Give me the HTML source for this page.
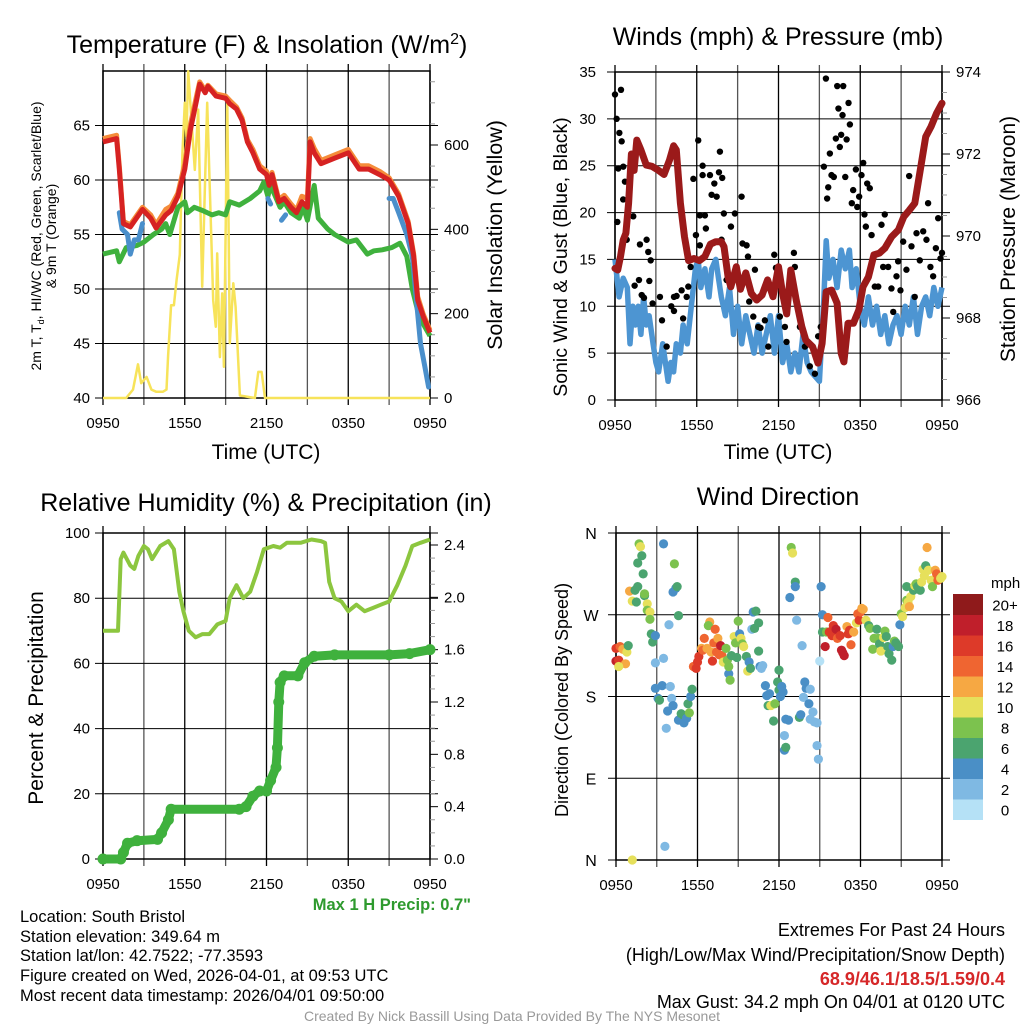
<!DOCTYPE html>
<html><head><meta charset="utf-8">
<style>
body{margin:0;background:#fff;}
svg{display:block;font-family:"Liberation Sans",Arial,sans-serif;}
</style></head>
<body>
<svg id="c" width="1024" height="1024" viewBox="0 0 1024 1024" xmlns="http://www.w3.org/2000/svg">
<text x="267" y="53" font-size="25" text-anchor="middle">Temperature (F) &amp; Insolation (W/m<tspan dy="-9" font-size="16">2</tspan><tspan dy="9">)</tspan></text>
<text x="778" y="45" font-size="25" text-anchor="middle">Winds (mph) &amp; Pressure (mb)</text>
<text x="266" y="511" font-size="25" text-anchor="middle">Relative Humidity (%) &amp; Precipitation (in)</text>
<text x="778" y="505" font-size="25" text-anchor="middle">Wind Direction</text>

<text x="266" y="459" font-size="21" text-anchor="middle">Time (UTC)</text>
<text x="778" y="459" font-size="21" text-anchor="middle">Time (UTC)</text>

<text transform="translate(41,236) rotate(-90)" font-size="14" text-anchor="middle">2m T, T<tspan font-size="9" dy="3">d</tspan><tspan dy="-3">, HI/WC (Red, Green, Scarlet/Blue)</tspan></text>
<text transform="translate(56,236) rotate(-90)" font-size="14" text-anchor="middle">&amp; 9m T (Orange)</text>
<text transform="translate(502,235) rotate(-90)" font-size="21.5" text-anchor="middle">Solar Insolation (Yellow)</text>
<text transform="translate(567,257) rotate(-90)" font-size="19.5" text-anchor="middle">Sonic Wind &amp; Gust (Blue, Black)</text>
<text transform="translate(1015,239) rotate(-90)" font-size="21" text-anchor="middle">Station Pressure (Maroon)</text>
<text transform="translate(43,698) rotate(-90)" font-size="21" text-anchor="middle">Percent &amp; Precipitation</text>
<text transform="translate(568,700) rotate(-90)" font-size="18" text-anchor="middle">Direction (Colored By Speed)</text>

<text x="471" y="910" font-size="16.5" font-weight="bold" fill="#2e9a2e" text-anchor="end">Max 1 H Precip: 0.7"</text>

<g font-size="16.5">
<text x="20" y="922">Location: South Bristol</text>
<text x="20" y="942">Station elevation: 349.64 m</text>
<text x="20" y="961">Station lat/lon: 42.7522; -77.3593</text>
<text x="20" y="981">Figure created on Wed, 2026-04-01, at 09:53 UTC</text>
<text x="20" y="1001">Most recent data timestamp: 2026/04/01 09:50:00</text>
</g>
<g font-size="18" text-anchor="end">
<text x="1005" y="936">Extremes For Past 24 Hours</text>
<text x="1005" y="961">(High/Low/Max Wind/Precipitation/Snow Depth)</text>
<text x="1005" y="985" fill="#d62728" font-weight="bold">68.9/46.1/18.5/1.59/0.4</text>
<text x="1005" y="1008">Max Gust: 34.2 mph On 04/01 at 0120 UTC</text>
</g>
<text x="512" y="1021" font-size="14" fill="#999" text-anchor="middle">Created By Nick Bassill Using Data Provided By The NYS Mesonet</text>
</svg>
<script>
// ---------- DATA ----------
const xTickLabels = ["0950","1550","2150","0350","0950"];
// Temperature panel (hours since 0950)
const redT = [0,1,1.2,1.5,2,2.9,3.5,3.9,4.6,5,5.5,6,6.4,6.9,7.1,7.5,7.7,8.3,9,9.3,9.8,10.2,10.6,11,11.5,12,12.2,12.4,12.9,13.3,13.8,14.2,14.6,15,15.2,15.5,16,17,18,18.8,19.5,20.3,21,21.7,22.4,22.8,23.1,23.5,24];
const redV = [63.5,63.8,61,56,55.7,57.3,56.5,55.6,56.8,57.2,58.5,61,64.5,67.5,68.8,68,68.6,67.7,67.5,67,66.5,65.5,63.5,62.5,61,60.5,59.5,60.5,58,58.3,57.5,57,58,57.5,63.5,62.5,61.5,62,62.5,61,61,60.5,60,58.5,56,53,49,47.5,46];
const orangeV = [63.8,64.1,61.3,56.2,55.9,57.5,56.8,55.9,57.3,57.6,58.8,61.5,65,67.9,69,68.2,68.7,67.9,67.7,67.3,66.7,65.7,63.7,62.8,61.3,60.8,59.8,60.7,58.2,58.6,57.8,57.2,58.5,58.3,63.8,62.9,61.8,62.3,62.8,61.3,61.3,60.8,60.2,58.7,56.2,53.2,49.3,47.7,46.2];
const greenT = [0,1,1.2,1.7,2.5,3,3.7,4.3,4.6,4.9,5.5,6,6.2,6.7,7.3,8,8.5,9,9.3,10,10.8,11.5,11.8,12.1,12.3,13,13.3,13.8,14.4,14.7,15,15.5,15.8,16.5,17,18,18.6,19.4,19.9,20.5,21.2,21.8,22.3,22.7,23.2,23.5,24];
const greenV = [53.2,53.5,52.5,53.8,54,54.3,55,55.5,56,55,57.5,58,57,57.5,57.2,56.8,57,56.8,58,57.7,58.3,59,59.8,58.5,59.5,57.5,58,57,56.5,57.5,56.3,59.5,56.5,55.5,55,54.3,54.5,53.2,53.5,53.6,53.8,54.2,53,50,47.5,46.8,45.7];
const blueT = [1.2,1.4,1.8,2.0,2.3,2.6,2.9,null,12.1,12.3,null,13.1,13.4,null,21.0,21.3,21.7,22.3,22.7,23.0,23.3,23.6,23.9];
const blueV = [57,55.5,55,53.2,54.5,54.5,56,null,58.3,57.8,null,56.3,56.8,null,58.3,58.3,57,55,53,49,45,43,41];
const solarT = [0,1.7,2.2,2.57,2.8,3.2,3.55,3.9,4.4,4.66,4.78,5.0,5.2,5.4,5.64,5.83,6.0,6.13,6.25,6.74,6.99,7.28,7.65,8.09,8.28,8.38,8.58,8.75,8.87,9.12,9.31,9.56,9.73,10.05,11.15,11.4,11.64,11.89,24];
const solarV = [0,0,20,80,35,50,20,15,15,20,100,220,220,280,340,580,700,620,775,541,684,264,700,232,169,343,97,248,74,700,130,272,216,6,0,62,62,0,0];
// Wind panel
const windT = [0,0.3,0.6,0.9,1.1,1.3,1.5,1.7,1.9,2.1,2.3,2.5,2.8,3.0,3.2,3.5,3.7,3.9,4.1,4.3,4.5,4.8,5.0,5.3,5.6,5.9,6.1,6.3,6.6,6.9,7.1,7.4,7.6,7.8,8.1,8.4,8.7,9.0,9.3,9.6,9.9,10.2,10.5,10.8,11.1,11.4,11.7,12.0,12.3,12.6,12.9,13.2,13.5,13.8,14.1,14.4,14.7,15.0,15.3,15.5,15.7,16.0,16.3,16.6,16.9,17.2,17.4,17.7,18.0,18.3,18.6,18.9,19.2,19.5,19.8,20.1,20.4,20.7,21.0,21.3,21.6,21.9,22.2,22.5,22.8,23.1,23.4,23.7,24];
const windV = [15,11,13,12,6,10,8,10,7,11,8,9,6,4,3,6,4,2,4,3,6,5,8,6,10,14,15,12,14,11,14,15,13,11,9,12,7,10,6,9,7,5,8,5,7,9,5,9,4,6,3,5,3,7,4,3,2.5,2,10,17,13,15,12,16,14,16,12,14,10,8,11,8,10,7,9,6,8,9,7,10,8,11,7,10,11,9,12,10,12];
const gustT = [0,0.12,0.44,0.32,0.49,0.24,0.61,0.73,0.6,0.17,1.34,0.86,1.83,2.32,2.44,2.62,2.52,1.76,1.44,1.96,2.13,2.76,3.3,3.45,3.79,4.13,4.33,4.52,4.89,4.33,5.0,5.26,5.38,5.55,5.75,5.94,6.11,6.23,6.23,6.43,6.43,6.6,6.67,6.97,7.09,7.29,7.46,7.7,7.63,7.87,7.99,7.82,8.19,8.51,8.8,9.29,9.36,9.66,9.76,9.85,10.15,10.27,10.51,10.68,11.0,11.25,11.69,11.81,12.1,12.47,12.59,13.13,13.2,13.57,13.94,14.3,14.67,14.91,15.1,15.33,15.48,15.57,15.65,15.77,15.89,16.06,16.21,16.31,16.4,16.5,16.6,16.7,16.75,16.9,17.0,17.14,17.24,17.38,17.48,17.68,17.78,17.92,18.09,18.22,18.31,18.41,18.51,18.7,18.83,19.07,19.32,19.56,19.8,19.68,20.05,20.29,20.42,20.66,20.78,20.95,21.15,21.39,21.59,21.76,22.0,22.13,22.37,22.62,22.86,22.98,23.15,23.35,23.55,23.72,23.89,24];
const gustV = [32.6,30,33.1,28.5,27.6,24.7,24.9,23.3,21.4,19,19.6,17.1,16.6,17.1,15.8,14.9,12.7,12.8,12.2,11.2,10.9,10.3,11,8.5,5.7,10,9.5,11.1,11.7,11,8.7,11,12.1,14.2,23.6,17.6,27.7,16.5,19.7,25,24,19.7,18.3,24,21.9,23.1,21.7,26.5,24.3,23.7,19.9,17.1,12.8,18.5,19.9,21.7,16.7,16.5,15.3,10.5,8.9,13.9,7.8,7.7,8.5,5.7,15.5,14.1,8.9,7.8,6.2,15.7,14.2,7.8,5.7,3.6,2.8,6.8,7.8,24.9,34.3,21.5,22.7,26.3,24,23.8,27.9,33.5,31.1,27,28.3,30.4,33.5,23.8,27.8,31.7,29.4,21,22.4,24.6,20.6,21.7,24,25.3,19.8,18.5,23.1,22.6,17.6,12.1,12.1,18.7,19.8,14.2,14.2,11.9,9.4,13.2,14.8,11.7,16.9,13.9,23.9,16.4,11,17.8,14.9,18,17.1,21,14.2,13.2,16.2,19.4,15.1,15.7];
const presT = [0,0.2,0.4,0.6,0.8,1.0,1.2,1.4,1.6,1.9,2.3,2.7,3.2,3.6,4.0,4.3,4.5,4.8,5.1,5.4,5.8,6.2,6.6,7.0,7.4,7.8,8.0,8.3,8.5,8.9,9.2,9.6,10.0,10.4,10.8,11.2,11.6,12.0,12.3,12.6,12.9,13.3,13.7,14.0,14.5,14.9,15.2,15.5,15.9,16.3,16.6,16.8,17.1,17.5,17.9,18.2,18.6,19.0,19.4,19.8,20.3,20.8,21.2,21.6,22.0,22.4,22.8,23.2,23.6,24];
const presV = [969.21,969.17,969.5,969.9,970.07,970.8,972.0,971.6,972.34,972.1,971.73,971.7,971.6,971.5,971.85,972.2,972.1,970.8,969.98,969.4,969.45,969.4,969.5,969.8,969.86,969.86,969.74,969.0,968.76,969.25,968.7,969.1,968.6,968.44,968.56,968.93,968.52,969.25,968.6,968.1,969.17,968.44,967.8,967.46,967.3,966.9,967.38,968.64,968.68,968.36,967.14,966.93,967.87,967.87,968.2,968.76,969.0,969.54,969.58,969.7,969.98,970.15,970.47,970.63,970.8,971.6,972.42,972.67,972.99,973.24];
// Humidity panel
const rhT = [0,1.1,1.3,1.5,2.0,2.3,2.6,3.0,3.3,3.6,4.2,4.8,5.2,5.6,5.9,6.3,6.8,7.3,7.8,8.4,9.0,9.3,9.8,10.3,10.8,11.3,11.8,12.5,13,13.5,14.5,15.3,16,16.3,16.6,17.0,17.5,18.0,18.6,19.2,19.8,20.4,21.0,21.6,22.2,22.7,23.3,24];
const rhV = [70,70,92,94,90,89,93,96,95,92,96,97.5,95,82,76,70,68,69,69,72,73,80,84,80,82,88,95,96,95.5,97,97,98,97.5,97,85,80,79,76,78,76,77,78,79,84,90,96,97,98];
const precipT = [0,1.3,1.5,1.8,2.5,4.0,4.3,4.8,5.0,10.0,10.5,11.0,11.5,12.0,12.3,12.7,12.8,12.9,13.0,13.3,14.3,14.8,15.5,17,21,22.5,24];
const precipV = [0,0,0.05,0.12,0.14,0.15,0.2,0.3,0.38,0.38,0.4,0.48,0.52,0.52,0.6,0.7,0.85,1.2,1.35,1.4,1.4,1.5,1.55,1.56,1.56,1.57,1.6];
// Wind direction panel
const wdT = [0,0,0.2,0.3,0.5,0.7,0.2,0.8,0.9,1.0,1.2,1.4,1.5,1.6,1.7,1.8,1.9,1.6,2.0,2.1,2.1,2.3,2.3,2.5,2.5,2.6,2.7,2.9,2.9,2.9,3.1,3.2,3.4,3.5,3.5,3.7,3.8,3.9,4.0,4.1,4.2,4.2,4.3,4.4,4.5,4.6,4.6,4.8,4.9,5.0,5.0,5.2,5.3,5.4,5.5,5.6,3.6,1.2,5.7,5.9,6.0,6.1,6.3,6.4,6.5,6.7,6.9,6.8,7.0,7.1,7.2,7.3,7.4,7.5,7.6,7.7,7.8,7.9,8.1,8.2,8.3,8.3,8.4,8.5,8.7,8.8,8.9,9.0,9.1,9.2,9.3,9.4,9.6,9.7,9.8,9.9,10.0,10.1,10.2,10.3,10.5,10.5,10.6,10.7,10.8,11.0,11.1,11.2,11.3,11.4,11.6,11.7,11.9,12.0,12.0,12.1,12.2,12.3,12.4,12.4,12.5,12.5,12.7,12.8,12.9,13.0,13.2,13.2,13.3,13.5,13.6,13.7,13.8,13.9,14.0,14.2,14.3,14.3,14.5,14.6,14.8,14.8,14.9,15.0,15.1,15.2,15.2,15.4,15.5,15.6,15.7,15.9,16.0,16.1,16.2,16.3,16.5,16.6,16.7,16.8,17.0,17.1,17.2,17.3,17.5,17.7,17.8,17.9,18.0,18.1,18.2,18.4,18.6,18.7,18.9,19.0,19.2,19.3,19.4,19.5,19.7,19.8,19.9,20.0,20.1,20.3,20.4,20.5,20.6,20.8,20.9,21.0,21.1,21.3,21.4,21.4,21.5,21.6,21.7,21.9,22.0,22.1,22.2,22.4,22.5,22.6,22.7,22.8,22.9,23.0,23.2,23.3,23.5,23.6,23.7,23.9,24.0];
const wdDir = [233,219,220,235,232,216,213,229,236,296,285,297,284,301,348,345,335,327,315,291,293,282,275,273,265,249,240,247,217,189,178,176,192,222,348,145,164,259,191,178,170,295,326,299,301,269,154,161,153,159,151,156,172,162,180,188,15,0,213,211,218,224,233,231,244,233,262,258,229,219,239,254,229,244,226,236,225,218,233,220,205,213,198,225,246,239,223,263,249,244,238,235,224,208,218,211,254,273,255,274,261,230,213,211,214,192,181,170,183,170,153,172,196,209,187,180,191,185,137,121,155,124,154,289,344,338,306,301,264,157,160,236,179,196,189,172,188,155,163,152,151,126,111,219,301,251,270,235,251,267,251,247,258,247,254,244,247,231,228,225,257,249,253,237,251,261,271,264,273,277,276,264,258,255,232,244,254,244,238,230,245,252,246,235,227,220,235,241,239,235,259,271,268,278,286,301,284,279,290,297,302,304,301,297,306,320,313,324,344,319,308,301,319,315,308,310,312];
const wdSpd = [16,18,16,14,12,12,10,10,6,12,10,6,6,6,8,10,6,6,6,6,8,10,8,10,8,6,6,4,2,4,4,6,4,2,4,2,4,2,2,2,4,4,8,4,6,6,4,6,4,6,4,4,6,8,4,6,2,10,14,16,16,16,12,14,14,12,12,8,12,16,14,14,14,12,14,18,14,10,8,8,4,8,8,6,10,8,6,8,4,10,8,10,6,10,4,6,2,4,6,6,6,6,4,2,2,4,4,6,4,10,6,8,6,6,6,4,4,4,2,4,4,6,4,4,8,10,6,4,2,6,4,2,2,4,4,4,2,2,2,2,2,2,2,0,4,6,4,18,8,14,16,16,16,16,18,14,16,18,18,18,12,16,16,14,12,10,14,16,14,12,12,10,6,8,8,8,6,8,6,10,10,8,6,6,6,6,4,8,6,6,4,8,10,10,8,6,10,12,10,6,10,8,6,6,10,10,10,6,12,10,10,8,12,14,14,10,10];
const speedLabels = ["0","2","4","6","8","10","12","14","16","18","20+"];
const speedColors = ["#b5e1f6","#7fb9e3","#4a8fc6","#4ba46f","#7cc24e","#e6e05b","#f6a843","#ef6531","#dd3a29","#c01f2b","#8f1a1b"];

// ---------- DRAWING ----------
const svg = document.getElementById('c');
const NS = 'http://www.w3.org/2000/svg';
function mk(tag, attrs, parent){ const e=document.createElementNS(NS,tag); for(const k in attrs) e.setAttribute(k,attrs[k]); (parent||svg).appendChild(e); return e; }
function lin(d0,d1,r0,r1){ return v => r0 + (v-d0)*(r1-r0)/(d1-d0); }
function pathFrom(ts, vs, fx, fy){ let d='', pen=false; for(let i=0;i<ts.length;i++){ if(ts[i]===null||vs[i]===null){pen=false;continue;} d += (pen?'L':'M') + fx(ts[i]).toFixed(1)+','+fy(vs[i]).toFixed(1); pen=true;} return d; }

function frame(name, x0, x1, y0, y1, hLines, fy){
  const g = mk('g', {});
  
  
  const fx = lin(0,24,x0,x1);
  for(let h=0; h<=24; h+=3){
    const x=fx(h);
    mk('line',{x1:x,x2:x,y1:y0-7,y2:y1+7,stroke:(h%6===0)?'#000':'#555','stroke-width':1.3},g);
  }
  hLines.forEach(v=>{ const y=fy(v); mk('line',{x1:x0-8,x2:x1+8,y1:y,y2:y,stroke:'#000','stroke-width':1},g); });
  mk('rect',{x:x0,y:y0,width:x1-x0,height:y1-y0,fill:'none',stroke:'#000','stroke-width':1.5},g);
  xTickLabels.forEach((lab,i)=>{ const t=mk('text',{x:fx(i*6),y:y1+30,'font-size':15,'text-anchor':'middle'},g); t.textContent=lab; });
  return fx;
}
function yLabels(name, vals, fy, x, anchor, fmt){
  const g = mk('g', {'font-size':15,'text-anchor':anchor});
  
  
  vals.forEach(v=>{ const t=mk('text',{x:x,y:fy(v)+5},g); t.textContent = fmt?fmt(v):v; });
}
function rightTicks(x, fy, lo, hi, step, minor){
  for(let v=lo; v<=hi+1e-9; v+=minor){ const maj=Math.abs((v-lo)/step-Math.round((v-lo)/step))<1e-6; mk('line',{x1:x,x2:x+(maj?8:5),y1:fy(v),y2:fy(v),stroke:maj?'#000':'#999','stroke-width':1}); }
}

// Panel 1
{
  const fyT = lin(40,70,398,71), fyS = lin(0,600,398,145);
  const fx = frame('temperature', 103,430,71,398,[40,45,50,55,60,65],fyT);
  yLabels('temp-y-ticks',[40,45,50,55,60,65],fyT,90,'end');
  yLabels('solar-y-ticks',[0,200,400,600],fyS,444,'start');
  rightTicks(430,fyS,0,750,200,50);
  const s=mk('path',{d:pathFrom(solarT,solarV,fx,fyS),fill:'none',stroke:'#f7e35a','stroke-width':2.5,'stroke-linejoin':'round'});
   
  const o=mk('path',{d:pathFrom(redT,orangeV,fx,fyT),fill:'none',stroke:'#f58c3a','stroke-width':5,'stroke-linejoin':'round'});
   
  const gr=mk('path',{d:pathFrom(greenT,greenV,fx,fyT),fill:'none',stroke:'#3fb13d','stroke-width':5,'stroke-linejoin':'round'});
   
  const b=mk('path',{d:pathFrom(blueT,blueV,fx,fyT),fill:'none',stroke:'#4a8fcb','stroke-width':5,'stroke-linejoin':'round','stroke-linecap':'round'});
   
  const r=mk('path',{d:pathFrom(redT,redV,fx,fyT),fill:'none',stroke:'#d62222','stroke-width':5,'stroke-linejoin':'round'});
   
}
// Panel 2
{
  const fyW = lin(0,35,400,72), fyP = lin(966,974,400,72);
  const fx = frame('winds', 615,942,72,400,[0,5,10,15,20,25,30,35],fyW);
  yLabels('wind-y-ticks',[0,5,10,15,20,25,30,35],fyW,596,'end');
  yLabels('pressure-y-ticks',[966,968,970,972,974],fyP,956,'start');
  rightTicks(942,fyP,966,974,2,0.5);
  const w=mk('path',{d:pathFrom(windT,windV,fx,fyW),fill:'none',stroke:'#4d95d2','stroke-width':5.5,'stroke-linejoin':'round'});
   
  const gg = mk('g',{fill:'#000'});
   
  gustT.forEach((t,i)=>{ const c=mk('circle',{cx:fx(t),cy:fyW(gustV[i]),r:3.2},gg);
    
     });
  const p=mk('path',{d:pathFrom(presT,presV,fx,fyP),fill:'none',stroke:'#9b1a1a','stroke-width':7,'stroke-linejoin':'round','stroke-linecap':'round'});
   
}
// Panel 3
{
  const fyR = lin(0,100,859,533), fyP = lin(0,2.4,859,545);
  const fx = frame('humidity', 103,430,533,859,[0,20,40,60,80,100],fyR);
  yLabels('rh-y-ticks',[0,20,40,60,80,100],fyR,90,'end');
  yLabels('precip-y-ticks',[0,0.4,0.8,1.2,1.6,2.0,2.4],fyP,444,'start',v=>v.toFixed(1));
  rightTicks(430,fyP,0,2.4,0.4,0.1);
  const r=mk('path',{d:pathFrom(rhT,rhV,fx,fyR),fill:'none',stroke:'#8cc63f','stroke-width':4,'stroke-linejoin':'round'});
   
  const p=mk('path',{d:pathFrom(precipT,precipV,fx,fyP),fill:'none',stroke:'#3fb13d','stroke-width':9,'stroke-linejoin':'round','stroke-linecap':'round'});
   
  precipT.forEach((t,i)=>{ const c=mk('circle',{cx:fx(t),cy:fyP(precipV[i]),r:5.5,fill:'#3fb13d'});
    
     });
}
// Panel 4
{
  const fyD = lin(0,360,860,533);
  const fx = frame('direction', 616,942,533,860,[0,90,180,270,360],fyD);
  const g = mk('g',{'font-size':16,'text-anchor':'middle'});
   
  [[0,'N'],[90,'E'],[180,'S'],[270,'W'],[360,'N']].forEach(a=>{ const t=mk('text',{x:591,y:fyD(a[0])+6},g); t.textContent=a[1]; });
  const pg = mk('g',{});
   
  wdT.forEach((t,i)=>{ const idx=Math.min(10,Math.floor(wdSpd[i]/2));
    const c=mk('circle',{cx:fx(t),cy:fyD(wdDir[i]),r:4.6,fill:speedColors[idx]},pg);
    
     });
  const cb = mk('g',{});
   
  const top=594, bh=20.5;
  for(let k=0;k<11;k++){
    const y = top + (10-k)*bh;
    mk('rect',{x:953,y:y,width:30,height:bh+0.5,fill:speedColors[k]},cb);
    const t=mk('text',{x:1005,y:y+bh/2+6,'font-size':15,'text-anchor':'middle'},cb); t.textContent=speedLabels[k];
  }
  const u=mk('text',{x:991,y:588,'font-size':15},cb); u.textContent='mph';
}
</script>
</body></html>
